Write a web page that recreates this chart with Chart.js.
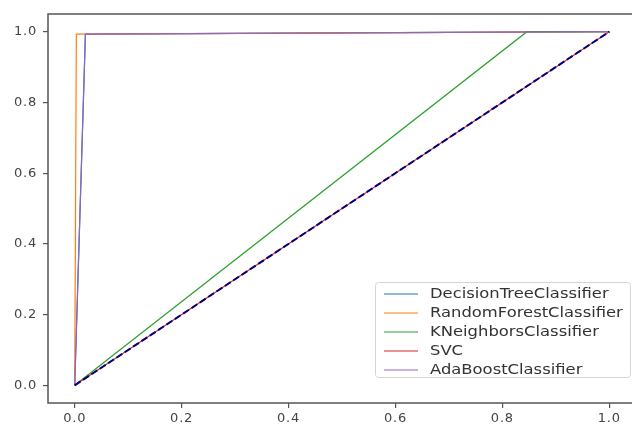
<!DOCTYPE html>
<html>
<head>
<meta charset="utf-8">
<script src="https://cdn.jsdelivr.net/npm/chart.js@4.4.0/dist/chart.umd.min.js"></script>
<style>
  html, body { margin: 0; padding: 0; background: #fff; overflow: hidden; }
</style>
</head>
<body>
<canvas id="roc" width="640" height="428"></canvas>
<script>
// ROC curves, values
var names = ['DecisionTreeClassifier', 'RandomForestClassifier', 'KNeighborsClassifier', 'SVC', 'AdaBoostClassifier'];
var colors = ['#1f77b4', '#ff7f0e', '#2ca02c', '#d62728', '#9467bd'];

var fprDT = [0, 0.02, 1];
var tprDT = [0, 0.993, 1];
var fprRF = [0, 0.003, 1];
var tprRF = [0, 0.993, 1];
var fprKN = [0, 0.846, 1];
var tprKN = [0, 1, 1];
var fprSVC = [0, 1];
var tprSVC = [0, 1];
var fprAda = [0, 0.02, 1];
var tprAda = [0, 0.993, 1];
var fprDiag = [0, 1];
var tprDiag = [0, 1];

var tickVals = [0, 0.2, 0.4, 0.6, 0.8, 1.0];

function pts(xs, ys) {
    var out = [];
    for (var i = 0; i < xs.length; i++) out.push({x: xs[i], y: ys[i]});
    return out;
}

var curves = [pts(fprDT, tprDT), pts(fprRF, tprRF), pts(fprKN, tprKN), pts(fprSVC, tprSVC), pts(fprAda, tprAda)];

var datasets = [];
for (var i = 0; i < names.length; i++) {
    datasets.push({
        label: names[i],
        data: curves[i],
        borderColor: colors[i],
        borderWidth: 1.2,
        showLine: true,
        pointRadius: 0,
        fill: false,
        order: names.length - i + 1
    });
}
datasets.push({
    label: 'diag',
    data: pts(fprDiag, tprDiag),
    borderColor: '#000080',
    borderWidth: 2,
    borderDash: [7, 3],
    showLine: true,
    pointRadius: 0,
    fill: false,
    order: 0
});

// picture is a bit wide, so stretch text a little
var spacingPlugin = {
    id: 'spacing',
    beforeDraw: function(chart) {
        chart.ctx.letterSpacing = '0.8px';
    }
};

// box round the plot + legend inside it
var framePlugin = {
    id: 'frame',
    afterDraw: function(chart) {
        var ctx = chart.ctx, a = chart.chartArea;
        ctx.save();
        ctx.letterSpacing = '0px';
        ctx.strokeStyle = '#555';
        ctx.lineWidth = 1.5;
        ctx.strokeRect(a.left, a.top, a.right - a.left, a.bottom - a.top);

        // legend
        var lx = 375, ly = 282, lw = 255, lh = 95;
        ctx.fillStyle = 'rgba(255,255,255,0.8)';
        ctx.strokeStyle = '#d5d5d5';
        ctx.lineWidth = 1;
        ctx.beginPath();
        ctx.roundRect(lx + 0.5, ly + 0.5, lw, lh, 3);
        ctx.fill();
        ctx.stroke();
        ctx.font = '14px "DejaVu Sans"';
        ctx.textBaseline = 'middle';
        for (var i = 0; i < names.length; i++) {
            var y = ly + 12 + i * 19;
            ctx.strokeStyle = colors[i];
            ctx.lineWidth = 1.2;
            ctx.beginPath();
            ctx.moveTo(384, y);
            ctx.lineTo(418, y);
            ctx.stroke();
            ctx.save();
            ctx.translate(430, y);
            ctx.scale(1.17, 1);
            ctx.fillStyle = '#333';
            ctx.fillText(names[i], 0, 0);
            ctx.restore();
        }
        ctx.restore();
    }
};

function fixTicks(scale) {
    scale.ticks = tickVals.map(function(v) { return {value: v}; });
}

var axisCommon = {
    type: 'linear',
    min: -0.05,
    max: 1.05,
    afterBuildTicks: fixTicks,
    grid: {
        display: true,
        drawOnChartArea: false,
        drawTicks: true,
        tickLength: 5,
        color: '#555',
        lineWidth: 1.2
    },
    border: { display: false },
    ticks: {
        color: '#444',
        font: { family: 'DejaVu Sans', size: 13 },
        callback: function(v) { return v.toFixed(1); }
    }
};

var xAxis = Object.assign({}, axisCommon, {
    position: 'bottom',
    afterFit: function(s) { s.height = 25; },
    ticks: Object.assign({}, axisCommon.ticks, { padding: 3, maxRotation: 0 })
});
var yAxis = Object.assign({}, axisCommon, {
    position: 'left',
    afterFit: function(s) { s.width = 48; },
    ticks: Object.assign({}, axisCommon.ticks, { padding: 6 })
});

var ctx = document.getElementById('roc');
var rocChart = new Chart(ctx, {
    type: 'scatter',
    data: { datasets: datasets },
    options: {
        responsive: false,
        animation: false,
        layout: { padding: { top: 14, right: 4, left: 0, bottom: 0 } },
        plugins: {
            legend: { display: false },
            tooltip: { enabled: false }
        },
        scales: { x: xAxis, y: yAxis }
    },
    plugins: [spacingPlugin, framePlugin]
});
</script>
</body>
</html>
